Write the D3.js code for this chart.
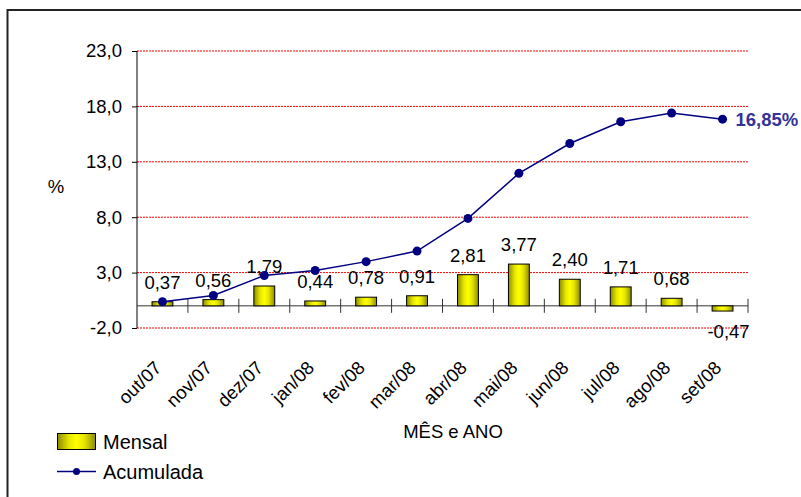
<!DOCTYPE html>
<html>
<head>
<meta charset="utf-8">
<script src="https://cdn.jsdelivr.net/npm/d3@7"></script>
<style>
html,body{margin:0;padding:0;background:#fff;}
svg{display:block;font-family:"Liberation Sans",Arial,sans-serif;}
</style>
</head>
<body>
<svg id="chart" width="801" height="497"></svg>
<script>
const months = ["out/07","nov/07","dez/07","jan/08","fev/08","mar/08","abr/08","mai/08","jun/08","jul/08","ago/08","set/08"];
const mensal = [0.37,0.56,1.79,0.44,0.78,0.91,2.81,3.77,2.40,1.71,0.68,-0.47];
const acumulada = [0.37,0.93,2.74,3.19,3.99,4.94,7.89,11.96,14.65,16.61,17.40,16.85];
const yTicks = [-2,3,8,13,18,23];
const finalLabel = "16,85%";
const yTitle = "%";
const xTitle = "MÊS e ANO";
const legendLabels = ["Mensal","Acumulada"];

const fmt = v => (v<0?"-":"") + Math.abs(v).toFixed(2).replace(".", ",");
const fmtTick = v => (v<0?"-":"") + Math.abs(v).toFixed(1).replace(".", ",");

const svg = d3.select("#chart");
const L = 137, R = 748, T = 51, B = 328;
const FS = "18.5px";

// outer frame
svg.append("rect").attr("x",7.5).attr("y",10).attr("width",820).attr("height",520)
  .attr("fill","none").attr("stroke","#222").attr("stroke-width",2);

const defs = svg.append("defs");
const g1 = defs.append("linearGradient").attr("id","barGrad").attr("x1","0").attr("x2","1").attr("y1","0").attr("y2","0");
[[0,"#8c8c00"],[0.3,"#e6e600"],[0.5,"#ffff00"],[0.7,"#e6e600"],[1,"#8c8c00"]].forEach(s=>
  g1.append("stop").attr("offset",s[0]).attr("stop-color",s[1]));

const x = d3.scaleBand().domain(months).range([L,R]).paddingInner(0.59).paddingOuter(0.295);
const xb = d3.scaleBand().domain(months).range([L,R]);
const y = d3.scaleLinear().domain([-2,23]).range([B,T]);

// gridlines
svg.append("g").selectAll("line").data(yTicks).join("line")
  .attr("x1",L).attr("x2",R).attr("y1",d=>y(d)).attr("y2",d=>y(d))
  .attr("stroke","#ff0000").attr("stroke-width",1).attr("stroke-dasharray","2,1");

// y axis
const yAxis = d3.axisLeft(y).tickValues(yTicks).tickFormat(fmtTick).tickSize(5).tickPadding(10);
const ya = svg.append("g").attr("transform",`translate(${L},0)`).call(yAxis);
ya.select(".domain").attr("stroke","#000").attr("d",`M0,${T}V${B}`);
ya.selectAll(".tick line").attr("stroke","#000");
ya.selectAll("text").attr("font-size",FS).attr("fill","#000").attr("font-family","Liberation Sans, Arial, sans-serif");

// x axis line at zero with crossing ticks
svg.append("line").attr("x1",L).attr("x2",R).attr("y1",y(0)).attr("y2",y(0)).attr("stroke","#333").attr("stroke-width",1);
svg.append("g").selectAll("line").data(months).join("line")
  .attr("x1",d=>xb(d)+xb.bandwidth()).attr("x2",d=>xb(d)+xb.bandwidth())
  .attr("y1",y(0)-7).attr("y2",y(0)+7).attr("stroke","#333").attr("stroke-width",1);

// bars
svg.append("g").selectAll("rect").data(mensal).join("rect")
  .attr("x",(d,i)=>x(months[i])).attr("width",x.bandwidth())
  .attr("y",d=>y(Math.max(0,d))).attr("height",d=>Math.abs(y(d)-y(0)))
  .attr("fill","url(#barGrad)").attr("stroke","#000").attr("stroke-width",1);

// bar labels
svg.append("g").selectAll("text").data(mensal).join("text")
  .attr("x",(d,i)=>xb(months[i])+xb.bandwidth()/2 + (d<0?6:0))
  .attr("y",d=> d>=0 ? y(d)-13 : y(d)+27)
  .attr("text-anchor","middle").attr("font-size",FS).attr("fill","#000")
  .text(d=>fmt(d));

// line
const cx = (i)=>xb(months[i])+xb.bandwidth()/2;
svg.append("path").datum(acumulada)
  .attr("d",d3.line().x((d,i)=>cx(i)).y(d=>y(d)))
  .attr("fill","none").attr("stroke","#000080").attr("stroke-width",1.5);
svg.append("g").selectAll("circle").data(acumulada).join("circle")
  .attr("cx",(d,i)=>cx(i)).attr("cy",d=>y(d)).attr("r",4.5).attr("fill","#000080");

// final label
const li = acumulada.length-1;
svg.append("text").attr("x",cx(li)+13).attr("y",y(acumulada[li])).attr("dy","0.35em")
  .attr("font-size",FS).attr("font-weight","bold").attr("fill","#333399").text(finalLabel);

// x tick labels rotated
svg.append("g").selectAll("text").data(months).join("text")
  .attr("transform",(d,i)=>`translate(${cx(i)},369) rotate(-45)`)
  .attr("text-anchor","end").attr("font-size",FS).attr("fill","#000").text(d=>d);

// titles
svg.append("text").attr("x",56).attr("y",193).attr("text-anchor","middle").attr("font-size",FS).text(yTitle);
svg.append("text").attr("x",453).attr("y",438).attr("text-anchor","middle").attr("font-size",FS).text(xTitle);

// legend
const lg = svg.append("g");
lg.append("rect").attr("x",57.5).attr("y",433.5).attr("width",38).attr("height",16)
  .attr("fill","url(#barGrad)").attr("stroke","#000").attr("stroke-width",1);
lg.append("text").attr("x",103).attr("y",449).attr("font-size","20px").text(legendLabels[0]);
lg.append("line").attr("x1",57).attr("x2",96).attr("y1",471.5).attr("y2",471.5).attr("stroke","#000080").attr("stroke-width",1.5);
lg.append("circle").attr("cx",76.5).attr("cy",471.5).attr("r",3.5).attr("fill","#000080");
lg.append("text").attr("x",103).attr("y",479).attr("font-size","20px").text(legendLabels[1]);
</script>
</body>
</html>
